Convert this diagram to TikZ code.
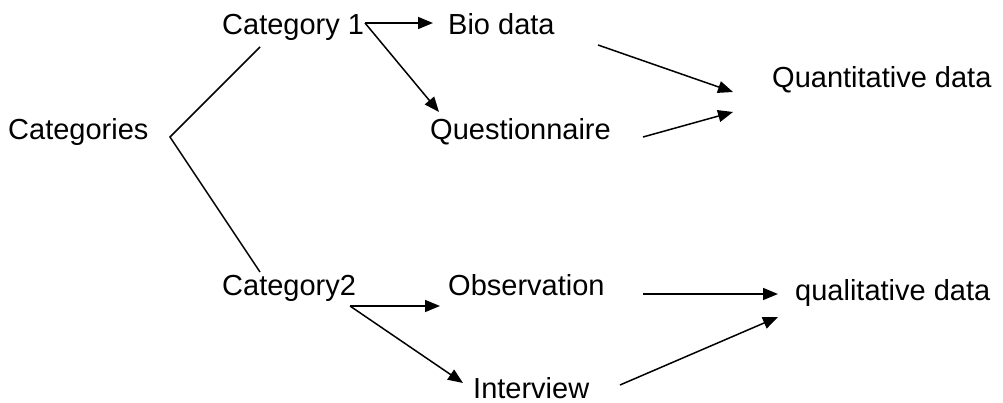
\documentclass[tikz,border=0pt]{standalone}
\usepackage{fontspec}
\setmainfont{Liberation Sans}
\usetikzlibrary{arrows.meta}
\begin{document}
\begin{tikzpicture}[x=1pt,y=-1pt,
  lbl/.style={anchor=base west,inner sep=0pt,font=\fontsize{29}{34}\selectfont},
  conn/.style={line width=1.5pt},
  arr/.style={conn,-{Triangle[length=15pt,width=12pt]}}]
\useasboundingbox (0,0) rectangle (1003,403);
\node[lbl] (cats) at (8,140) {Categories};
\node[lbl] (c1) at (222,35) {Category 1};
\node[lbl] (bio) at (448,35) {Bio data};
\node[lbl] (quest) at (430,140) {Questionnaire};
\node[lbl] (quant) at (772,88) {Quantitative data};
\node[lbl] (c2) at (222,295) {Category2};
\node[lbl] (obs) at (448,295) {Observation};
\node[lbl] (intv) at (473,398) {Interview};
\node[lbl] (qual) at (795,300) {qualitative data};
% connector end points
\coordinate (v) at (170,137);
\coordinate (c1b) at (260,47);
\coordinate (c2t) at (260,272);
\coordinate (c1r) at (365,23);
\coordinate (bioL) at (433,23);
\coordinate (questT) at (439,112);
\coordinate (bioR) at (598,45);
\coordinate (quantA) at (733,92);
\coordinate (questR) at (643,137);
\coordinate (quantB) at (733,112);
\coordinate (c2r) at (350,306);
\coordinate (obsL) at (440,306);
\coordinate (intvT) at (463,383);
\coordinate (obsR) at (643,294);
\coordinate (qualA) at (778,294);
\coordinate (intvR) at (620,385);
\coordinate (qualB) at (778,317);
\draw[conn] (c1b) -- (v) -- (c2t);
\draw[arr] (c1r) -- (bioL);
\draw[arr] (c1r) -- (questT);
\draw[arr] (bioR) -- (quantA);
\draw[arr] (questR) -- (quantB);
\draw[arr] (c2r) -- (obsL);
\draw[arr] (c2r) -- (intvT);
\draw[arr] (obsR) -- (qualA);
\draw[arr] (intvR) -- (qualB);
\end{tikzpicture}
\end{document}
